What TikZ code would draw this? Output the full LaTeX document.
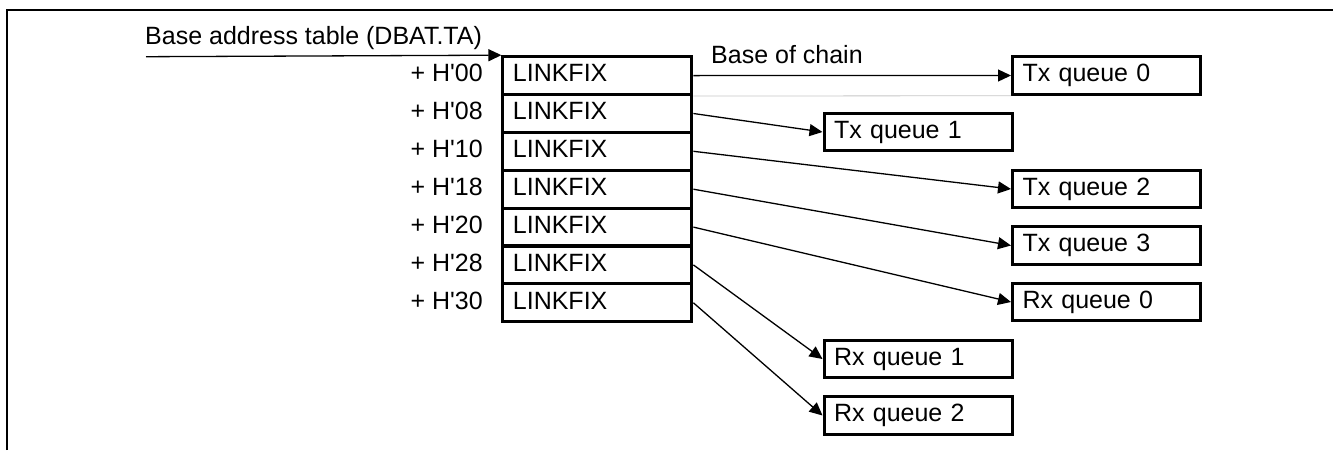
\documentclass[tikz,border=0pt]{standalone}
\usepackage{fontspec}
\setmainfont{Liberation Sans}
\usetikzlibrary{arrows.meta}
\newcommand{\hq}{H\textquotesingle}
\begin{document}
\begin{tikzpicture}[x=1pt,y=-1pt,
  font=\fontsize{25}{29}\selectfont,
  cell/.style={draw, line width=3pt, minimum height=37.86pt, inner ysep=0pt,
    inner xsep=10pt, text width=169pt, align=left, text height=17.5pt, text depth=5pt},
  qbox/.style={draw, line width=3pt, minimum height=37.5pt, inner ysep=0pt,
    inner xsep=10pt, text width=168pt, align=left, text height=17.5pt, text depth=5pt},
  offs/.style={anchor=east, inner sep=0pt, text height=17.5pt, text depth=5pt},
  conn/.style={line width=1.3pt, -{Triangle[length=13pt,width=12pt]}},
  frame/.style={line width=2.5pt}
]
\useasboundingbox (0,0) rectangle (1333,450);
\draw[frame] (7,450) -- (7,10) -- (1333,10);

% table rows
\node[cell] (r0) at (597.4,75.6) {LINKFIX};
\node[cell] (r1) at (597.4,113.5) {LINKFIX};
\node[cell] (r2) at (597.4,151.3) {LINKFIX};
\node[cell] (r3) at (597.4,189.2) {LINKFIX};
\node[cell] (r4) at (597.4,227.1) {LINKFIX};
\node[cell] (r5) at (597.4,264.9) {LINKFIX};
\node[cell] (r6) at (597.4,302.8) {LINKFIX};

% offsets
\node[offs] (o0) at (483,75.6) {+ \hq00};
\node[offs] (o1) at (483,113.5) {+ \hq08};
\node[offs] (o2) at (483,151.3) {+ \hq10};
\node[offs] (o3) at (483,189.2) {+ \hq18};
\node[offs] (o4) at (483,227.1) {+ \hq20};
\node[offs] (o5) at (483,264.9) {+ \hq28};
\node[offs] (o6) at (483,302.8) {+ \hq30};

% title and input arrow
\node[anchor=base west, inner sep=0pt] (title) at (145,44) {Base address table (DBAT.TA)};
\coordinate (in) at (146,56.7);
\draw[conn] (in) -- (r0.north west);

% queues
\node[qbox] (tx0) at (1106.5,75.5) {Tx queue 0};
\node[qbox] (tx1) at (918,132) {Tx queue 1};
\node[qbox] (tx2) at (1106.5,189) {Tx queue 2};
\node[qbox] (tx3) at (1106.5,245.5) {Tx queue 3};
\node[qbox] (rx0) at (1106.5,302) {Rx queue 0};
\node[qbox] (rx1) at (918,359) {Rx queue 1};
\node[qbox] (rx2) at (918,415.5) {Rx queue 2};

\node[anchor=base west, inner sep=0pt] (boc) at (711,63) {Base of chain};

% connectors
\draw[gray!45, line width=0.8pt] (r0.south east) -- (tx0.south west);
\draw[conn] (r0.east) -- (tx0.west);
\draw[conn] (r1.east) -- (tx1.west);
\draw[conn] (r2.east) -- (tx2.west);
\draw[conn] (r3.east) -- (tx3.west);
\draw[conn] (r4.east) -- (rx0.west);
\draw[conn] (r5.east) -- (rx1.west);
\draw[conn] (r6.east) -- (rx2.west);
\end{tikzpicture}
\end{document}
